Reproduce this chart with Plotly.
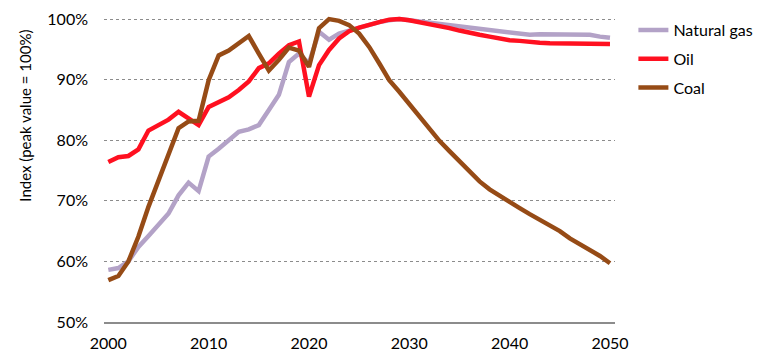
import plotly.graph_objects as go

years = list(range(2000, 2051))

natural_gas = [58.6, 58.9, 60.0, 62.4, 64.2, 66.1, 67.9, 70.9, 73.0, 71.6,
               77.3, 78.6, 80.0, 81.4, 81.8, 82.5, 85.0, 87.5, 92.9, 94.3,
               92.7, 97.9, 96.6, 97.6, 98.1, 98.6, 99.1, 99.5, 99.8, 100.0,
               99.8, 99.6, 99.4, 99.1, 98.9, 98.7, 98.5, 98.3, 98.1, 98.0,
               97.8, 97.6, 97.4, 97.5, 97.5, 97.5, 97.5, 97.5, 97.4, 97.1, 96.9]

oil = [76.4, 77.2, 77.4, 78.5, 81.6, 82.5, 83.4, 84.7, 83.6, 82.5,
       85.5, 86.2, 87.1, 88.3, 89.7, 91.9, 92.7, 94.3, 95.7, 96.3,
       87.2, 92.4, 94.9, 96.8, 98.0, 98.6, 99.1, 99.5, 99.9, 100.0,
       99.8, 99.5, 99.2, 98.8, 98.5, 98.1, 97.7, 97.4, 97.1, 96.8,
       96.5, 96.4, 96.2, 96.1, 96.0, 96.0, 96.0, 95.9, 95.9, 95.9, 95.9]

coal = [56.9, 57.6, 60.0, 64.1, 69.0, 73.2, 77.3, 82.0, 83.1, 83.2,
        89.9, 94.0, 94.8, 96.0, 97.2, 94.3, 91.5, 93.3, 95.3, 94.8,
        92.1, 98.5, 100.0, 99.7, 99.0, 97.6, 95.4, 92.7, 89.9, 88.0,
        86.0, 83.8, 81.8, 79.9, 78.2, 76.5, 74.7, 73.2, 71.9, 70.8,
        69.8, 68.8, 67.8, 66.9, 65.9, 65.0, 63.8, 62.8, 62.0, 60.9, 59.7]

series = [("Natural gas", natural_gas, "#B3A2C7"),
          ("Oil", oil, "#FF1020"),
          ("Coal", coal, "#964B16")]

y_ticks = [50, 60, 70, 80, 90, 100]
y_tick_labels = ["50%", "60%", "70%", "80%", "90%", "100%"]
x_ticks = [2000, 2010, 2020, 2030, 2040, 2050]

FONT = "Lato, 'Open Sans', sans-serif"

fig = go.Figure()
for i, (name, vals, color) in enumerate(series):
    fig.add_trace(go.Scatter(
        x=years, y=vals, name=name, mode="lines",
        line=dict(color=color, width=4.5),
        legendgroup=f"g{i}",
    ))

fig.update_layout(
    width=769, height=361,
    margin=dict(l=96, r=162, t=5, b=47, autoexpand=False),
    paper_bgcolor="white", plot_bgcolor="white",
    font=dict(family=FONT, size=16, color="#000000"),
    legend=dict(
        x=1.036, xanchor="left", y=1.0, yanchor="top",
        font=dict(family=FONT, size=16, color="#000000"),
        tracegroupgap=5, bgcolor="rgba(0,0,0,0)",
        itemwidth=30,
    ),
    xaxis=dict(
        range=[1999.57, 2050.5], tickvals=x_ticks, ticktext=[str(v) for v in x_ticks],
        showgrid=False, zeroline=False, showline=True, linecolor="#8C8C8C", linewidth=1.5,
        ticks="", ticklabelstandoff=6, tickfont=dict(family=FONT, size=16), automargin=False,
    ),
    yaxis=dict(
        range=[50, 101], tickvals=y_ticks, ticktext=y_tick_labels,
        showgrid=True, gridcolor="#8C8C8C", griddash="dot", gridwidth=1.2,
        zeroline=False, showline=False, ticks="", ticklabelstandoff=15,
        tickfont=dict(family=FONT, size=16), automargin=False,
    ),
    showlegend=True,
    annotations=[dict(
        text="Index (peak value = 100%)", textangle=-90,
        xref="paper", yref="paper", x=-0.155, y=0.667,
        xanchor="center", yanchor="middle", showarrow=False,
        font=dict(family=FONT, size=15, color="#000000"),
    )],
)

fig.write_html("out.html")
